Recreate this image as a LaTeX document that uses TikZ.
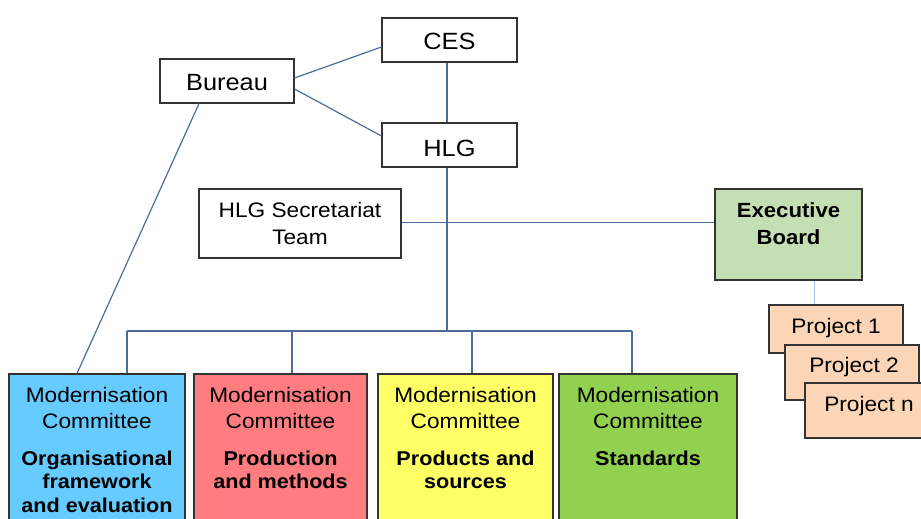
\documentclass[tikz,border=0pt]{standalone}
\usepackage{fontspec}
\setmainfont[FakeStretch=1.08]{Liberation Sans}
\definecolor{linec}{HTML}{4A6D9C}
\definecolor{linel}{HTML}{9DC3E6}
\definecolor{mcblue}{HTML}{66CCFF}
\definecolor{mcred}{HTML}{FF7C80}
\definecolor{mcyellow}{HTML}{FFFF66}
\definecolor{mcgreen}{HTML}{92D050}
\definecolor{execg}{HTML}{C4DFB4}
\definecolor{projc}{HTML}{FBD5B5}
\tikzset{
  box/.style={draw=black!80, line width=1.1pt, inner sep=0pt, rectangle},
  conn/.style={draw=linec, line width=1.2pt},
  connl/.style={draw=linel, line width=1pt},
  lbl/.style={inner sep=0pt, anchor=base, align=center},
  big/.style={font=\fontsize{23.5}{26}\selectfont},
  mid/.style={font=\fontsize{21}{27}\selectfont},
  norm/.style={font=\fontsize{21}{26}\selectfont},
  bld/.style={font=\fontsize{20}{23.5}\selectfont\bfseries},
  bldx/.style={font=\fontsize{20.5}{27}\selectfont\bfseries},
  proj/.style={font=\fontsize{21}{25}\selectfont},
}
\begin{document}
\begin{tikzpicture}[x=1pt,y=-1pt]
\useasboundingbox (0,0) rectangle (921,519);
% boxes
\node[box, minimum width=135pt, minimum height=44pt] (ces) at (449.5,40) {};
\node[box, minimum width=134pt, minimum height=44pt] (bureau) at (227,81) {};
\node[box, minimum width=135pt, minimum height=44pt] (hlg) at (449.5,145) {};
\node[box, minimum width=202pt, minimum height=69pt] (sec) at (300,223.5) {};
\node[box, fill=execg, minimum width=147pt, minimum height=91pt] (exec) at (788.5,234.5) {};
\node[box, fill=mcblue, minimum width=176pt, minimum height=166pt] (mc1) at (97,457) {};
\node[box, fill=mcred, minimum width=173pt, minimum height=166pt] (mc2) at (280.5,457) {};
\node[box, fill=mcyellow, minimum width=175pt, minimum height=166pt] (mc3) at (465.5,457) {};
\node[box, fill=mcgreen, minimum width=178pt, minimum height=166pt] (mc4) at (648,457) {};
\node[box, fill=projc, minimum width=134pt, minimum height=48pt] (p1) at (836,329) {};
\node[box, fill=projc, minimum width=134pt, minimum height=55pt] (p2) at (852,372.5) {};
\node[box, fill=projc, minimum width=134pt, minimum height=55pt] (pn) at (872,410.5) {};
% texts (base = baseline of last line)
\node[lbl, big] (tces) at (449.5,49) {CES};
\node[lbl, big] (tbureau) at (227,90) {Bureau};
\node[lbl, big] (thlg) at (449.5,156) {HLG};
\node[lbl, mid] (tsec) at (300,244) {HLG Secretariat\\Team};
\node[lbl, bldx] (texec) at (788.5,244) {Executive\\Board};
\node[lbl, norm] (tmc1) at (97,428) {Modernisation\\Committee};
\node[lbl, norm] (tmc2) at (280.5,428) {Modernisation\\Committee};
\node[lbl, norm] (tmc3) at (465.5,428) {Modernisation\\Committee};
\node[lbl, norm] (tmc4) at (648,428) {Modernisation\\Committee};
\node[lbl, bld] (bmc1) at (97,512) {Organisational\\framework\\and evaluation};
\node[lbl, bld] (bmc2) at (280.5,488.5) {Production\\and methods};
\node[lbl, bld] (bmc3) at (465.5,488.5) {Products and\\sources};
\node[lbl, bld] (bmc4) at (648,465) {Standards};
\node[lbl, proj] (tp1) at (836,333) {Project 1};
\node[lbl, proj] (tp2) at (854,372) {Project 2};
\node[lbl, proj] (tpn) at (869,411) {Project n};
% connectors
\coordinate (bmid) at (447,331);
\coordinate (b1) at (127,331);
\coordinate (b2) at (292,331);
\coordinate (b3) at (472,331);
\coordinate (b4) at (632,331);
\draw[conn] ([yshift=3pt]bureau.east) -- ([yshift=-7pt]ces.west);
\draw[conn] ([yshift=-8pt]bureau.east) -- ([yshift=9pt]hlg.west);
\draw[conn] ([xshift=-2.5pt]ces.south) -- ([xshift=-2.5pt]hlg.north);
\draw[conn] ([xshift=-28pt]bureau.south) -- ([xshift=-20pt]mc1.north);
\draw[conn] ([xshift=-2.5pt]hlg.south) -- (bmid);
\draw[conn] ([yshift=1pt]sec.east) -- ([yshift=1pt]sec.east -| exec.west);
\draw[conn] (b1) -- (b4);
\draw[conn] (b1) -- (b1 |- mc1.north);
\draw[conn] (b2) -- (b2 |- mc2.north);
\draw[conn] (b3) -- (b3 |- mc3.north);
\draw[conn] (b4) -- (b4 |- mc4.north);
\draw[connl] ([xshift=25.5pt]exec.south) -- ([xshift=25.5pt]exec.south |- p1.north);
\end{tikzpicture}
\end{document}
